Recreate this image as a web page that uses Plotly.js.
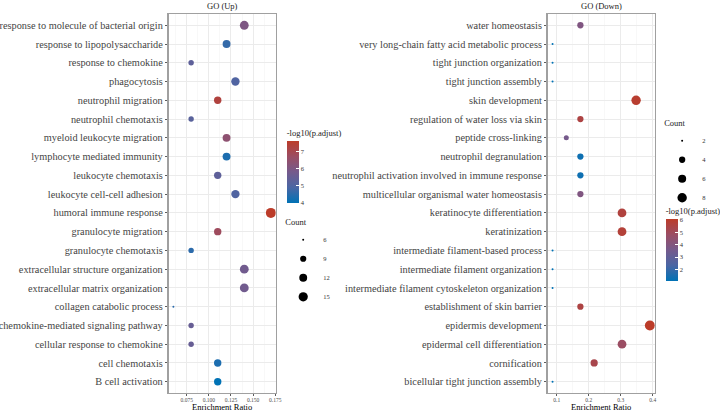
<!DOCTYPE html>
<html>
<head>
<meta charset="utf-8">
<script src="https://cdn.plot.ly/plotly-3.0.1.min.js"></script>
<style>html,body{margin:0;padding:0;background:#fff;}#chart{width:720px;height:412px;}</style>
</head>
<body>
<div id="chart"></div>
<script>
// ---- GO (Up) ----
const upTerms = [
  "response to molecule of bacterial origin",
  "response to lipopolysaccharide",
  "response to chemokine",
  "phagocytosis",
  "neutrophil migration",
  "neutrophil chemotaxis",
  "myeloid leukocyte migration",
  "lymphocyte mediated immunity",
  "leukocyte chemotaxis",
  "leukocyte cell-cell adhesion",
  "humoral immune response",
  "granulocyte migration",
  "granulocyte chemotaxis",
  "extracellular structure organization",
  "extracellular matrix organization",
  "collagen catabolic process",
  "chemokine-mediated signaling pathway",
  "cellular response to chemokine",
  "cell chemotaxis",
  "B cell activation"
];
const upRatio = [0.14,0.12,0.08,0.13,0.11,0.08,0.12,0.12,0.11,0.13,0.17,0.11,0.08,0.14,0.14,0.06,0.08,0.08,0.11,0.11];
const upCount = [14,12,8,13,11,8,12,12,11,13,17,11,8,14,14,6,8,8,11,11];
const upLogP  = [6.0,4.6,5.3,5.0,7.3,5.2,6.4,4.3,5.3,5.0,7.63,6.8,4.5,5.7,5.7,4.5,5.5,5.5,4.3,3.95];
const upCountBreaks = [6,9,12,15];
const upColorTicks = [4,5,6,7];

// ---- GO (Down) ----
const downTerms = [
  "water homeostasis",
  "very long-chain fatty acid metabolic process",
  "tight junction organization",
  "tight junction assembly",
  "skin development",
  "regulation of water loss via skin",
  "peptide cross-linking",
  "neutrophil degranulation",
  "neutrophil activation involved in immune response",
  "multicellular organismal water homeostasis",
  "keratinocyte differentiation",
  "keratinization",
  "intermediate filament-based process",
  "intermediate filament organization",
  "intermediate filament cytoskeleton organization",
  "establishment of skin barrier",
  "epidermis development",
  "epidermal cell differentiation",
  "cornification",
  "bicellular tight junction assembly"
];
const downCount = [4,2,2,2,8,4,3,4,4,4,7,7,2,2,2,4,9,7,5,2];
const downRatio = [0.174,0.087,0.087,0.087,0.348,0.174,0.130,0.174,0.174,0.174,0.304,0.304,0.087,0.087,0.087,0.174,0.391,0.304,0.217,0.087];
const downLogP  = [3.9,1.06,1.06,1.06,5.9,5.5,3.6,1.3,1.3,3.9,5.6,5.7,1.06,1.06,1.06,5.5,6.05,4.8,5.3,1.06];
const downCountBreaks = [2,4,6,8];
const downColorTicks = [2,3,4,5,6];

const scale = [[0,'#0072B5'],[0.25,'#4A66A4'],[0.5,'#755A8C'],[0.75,'#9B4D63'],[1,'#BC3C29']];
const FONT = '"Liberation Serif", "Times New Roman", Times, serif';

function sizer(counts){
  const mn = Math.min(...counts), mx = Math.max(...counts);
  return c => 2 + 8*Math.sqrt((c-mn)/(mx-mn));
}
const upSize = sizer(upCount), downSize = sizer(downCount);

function dotTrace(terms, ratio, count, logp, sz, xa, ya, cb){
  return {
    type:'scatter', mode:'markers', x: ratio, y: terms, xaxis:xa, yaxis:ya,
    showlegend:false,
    text: count.map(String),
    hovertemplate:'%{y}<br>Ratio %{x}<br>Count %{text}<extra></extra>',
    marker:{
      size: count.map(sz), color: logp, colorscale: scale,
      cmin: Math.min(...logp), cmax: Math.max(...logp),
      line:{width:0}, opacity:1,
      showscale:true, colorbar: cb
    }
  };
}

function cbar(x, ytop, ticks){
  return {
    x: x, xanchor:'left', y: ytop, yanchor:'top',
    len: 77, lenmode:'pixels', thickness: 12, thicknessmode:'pixels',
    outlinewidth: 0, xpad: 0, ypad: 0,
    tickvals: ticks, ticks:'inside', ticklen: 3, tickcolor:'#fff',
    tickfont:{family:FONT, size:6.5, color:'#333'},
    title:{text:'-log10(p.adjust)', side:'top', font:{family:FONT, size:8.5, color:'#1a1a1a'}}
  };
}

const traces = [
  dotTrace(upTerms, upRatio, upCount, upLogP, upSize, 'x', 'y', cbar(287.5/720, 0.7036, upColorTicks)),
  dotTrace(downTerms, downRatio, downCount, downLogP, downSize, 'x2', 'y2', cbar(667.5/720, 0.498, downColorTicks))
];

upCountBreaks.forEach(c => traces.push({
  type:'scatter', mode:'markers', x:[null], y:[null], xaxis:'x', yaxis:'y',
  name: String(c), legend:'legend', showlegend:true, hoverinfo:'skip',
  marker:{size: upSize(c), color:'#000', line:{width:0}}
}));
downCountBreaks.forEach(c => traces.push({
  type:'scatter', mode:'markers', x:[null], y:[null], xaxis:'x2', yaxis:'y2',
  name: String(c), legend:'legend2', showlegend:true, hoverinfo:'skip',
  marker:{size: downSize(c), color:'#000', line:{width:0}}
}));

const grid = '#EBEBEB';
function xax(domain, range, ticks, texts){
  return {
    domain: domain, range: range, tickvals: ticks, ticktext: texts,
    showgrid:true, gridcolor: grid, gridwidth: 1,
    minor:{showgrid:true, gridcolor:'#F3F3F3', gridwidth:0.6},
    zeroline:false, showline:true, mirror:true, linecolor:'#A0A0A0', linewidth:1.2,
    ticks:'outside', ticklen:2, tickcolor:'#333', tickwidth:0.8,
    ticklabelstandoff:-1,
    tickfont:{family:FONT, size:5.5, color:'#4D4D4D'},
    title:{text:'Enrichment Ratio', font:{family:FONT, size:8.5, color:'#000'}, standoff:0},
    automargin:false, fixedrange:true
  };
}
function yax(terms, anchor){
  return {
    type:'category', categoryorder:'array', categoryarray: terms.slice().reverse(),
    range:[-0.6, terms.length-0.4], anchor: anchor,
    showgrid:true, gridcolor: grid, gridwidth:1,
    zeroline:false, showline:true, mirror:true, linecolor:'#A0A0A0', linewidth:1.2,
    ticks:'outside', ticklen:2.5, tickcolor:'#333', tickwidth:0.8,
    tickfont:{family:FONT, size:10.3, color:'#444'},
    automargin:false, fixedrange:true
  };
}

const upX = xax([169/720, 276.5/720], [0.0545, 0.1755], [0.075,0.1,0.125,0.15,0.175], ['0.075','0.100','0.125','0.150','0.175']);
upX.minor.tickvals = [0.0625,0.0875,0.1125,0.1375,0.1625];
const downX = xax([549.2/720, 656.6/720], [0.0718, 0.4063], [0.1,0.2,0.3,0.4], ['0.1','0.2','0.3','0.4']);
downX.minor.tickvals = [0.15,0.25,0.35];
downX.anchor = 'y2';

function legendCfg(x, ytop){
  return {
    x: x, xanchor:'left', y: ytop, yanchor:'top',
    bgcolor:'rgba(0,0,0,0)', borderwidth:0, itemsizing:'trace', itemwidth:30,
    font:{family:FONT, size:6.5, color:'#333'},
    title:{text:'Count', side:'top', font:{family:FONT, size:8.5, color:'#1a1a1a'}},
    tracegroupgap:0
  };
}

const layout = {
  width:720, height:412,
  margin:{l:0, r:0, t:13.5, b:19, pad:0},
  paper_bgcolor:'#fff', plot_bgcolor:'#fff',
  font:{family:FONT},
  xaxis: upX, yaxis: yax(upTerms, 'x'),
  xaxis2: downX, yaxis2: yax(downTerms, 'x2'),
  showlegend:true,
  legend: legendCfg(284/720, 0.4717),
  legend2: legendCfg(664/720, 0.733),
  annotations:[
    {text:'GO (Up)', xref:'x domain', yref:'paper', x:0.5, y:1, yanchor:'bottom', yshift:1, showarrow:false,
     font:{family:FONT, size:8.5, color:'#1a1a1a'}},
    {text:'GO (Down)', xref:'x2 domain', yref:'paper', x:0.5, y:1, yanchor:'bottom', yshift:1, showarrow:false,
     font:{family:FONT, size:8.5, color:'#1a1a1a'}}
  ]
};

Plotly.newPlot('chart', traces, layout, {displayModeBar:false, staticPlot:true});
</script>
</body>
</html>
